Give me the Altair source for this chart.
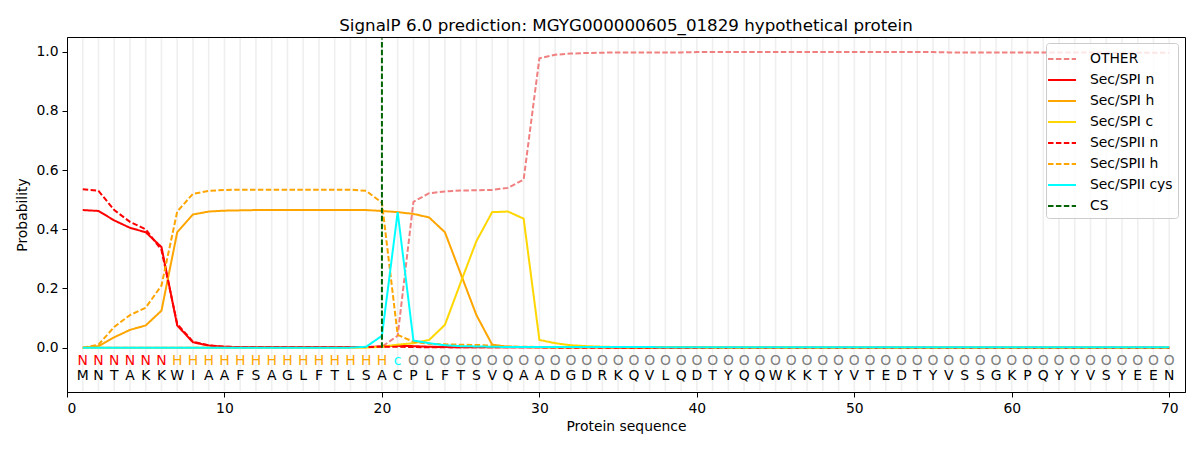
import altair as alt
import pandas as pd

sequence = list("MNTAKKWIAAFSAGLFTLSACPLFTSVQAADGDRKQVLQDTYQQWKKTYVTEDTYVSSGKPQYYVSYEEN")
region_labels = list("NNNNNN" + "H" * 14 + "c" + "O" * 49)
positions = list(range(1, len(sequence) + 1))
cs_position = 20

other = ([0.0] * 18 + [0.002, 0.003, 0.04, 0.493, 0.522, 0.528, 0.531, 0.532, 0.533, 0.540, 0.568,
         0.978, 0.990, 0.994, 0.996, 0.997] + [0.998] * 5 + [0.999] * 16 + [0.998] * 10 + [0.997] * 5)
spi_n = ([0.465, 0.462, 0.43, 0.405, 0.39, 0.34, 0.075, 0.018, 0.007, 0.003] + [0.002] * 9 +
         [0.004, 0.006, 0.005, 0.003, 0.002] + [0.001] * 10 + [0.0] * 36)
spi_h = ([0.0, 0.005, 0.035, 0.06, 0.075, 0.125, 0.39, 0.45, 0.46, 0.463, 0.464] + [0.465] * 8 +
         [0.462, 0.458, 0.452, 0.44, 0.39, 0.25, 0.11, 0.01, 0.003, 0.002] + [0.001] * 10 + [0.0] * 31)
spi_c = ([0.0] * 19 + [0.003, 0.01, 0.015, 0.026, 0.077, 0.22, 0.36, 0.458, 0.46, 0.436, 0.026, 0.015,
         0.008, 0.005, 0.003, 0.002] + [0.001] * 10 + [0.0] * 25)
spii_n = ([0.535, 0.53, 0.465, 0.425, 0.40, 0.33, 0.08, 0.02, 0.008, 0.003] + [0.002] * 9 +
          [0.003, 0.003, 0.002] + [0.001] * 8 + [0.0] * 40)
spii_h = ([0.0, 0.01, 0.07, 0.11, 0.135, 0.21, 0.46, 0.52, 0.53, 0.533] + [0.534] * 8 +
          [0.53, 0.49, 0.043, 0.02, 0.013, 0.011, 0.01, 0.009, 0.007, 0.004, 0.003, 0.002] +
          [0.001] * 10 + [0.0] * 30)
spii_cys = ([0.0] * 18 + [0.003, 0.04, 0.458, 0.024, 0.015, 0.008, 0.005, 0.004, 0.003] +
            [0.002] * 10 + [0.001] * 33)

series_names = ["OTHER", "Sec/SPI n", "Sec/SPI h", "Sec/SPI c", "Sec/SPII n", "Sec/SPII h",
                "Sec/SPII cys", "CS"]
series_colors = ["#F08080", "#FF0000", "#FFA500", "#FFD700", "#FF0000", "#FFA500", "#00FFFF", "#006400"]
series_dashes = [[5.5, 2.4], [1, 0], [1, 0], [1, 0], [5.5, 2.4], [5.5, 2.4], [1, 0], [5.5, 2.4]]
series_values = [other, spi_n, spi_h, spi_c, spii_n, spii_h, spii_cys]

label_colors = {"N": "#FF0000", "H": "#FFA500", "c": "#00FFFF", "O": "#808080"}

rows = []
for name, vals in zip(series_names[:-1], series_values):
    for p, v in zip(positions, vals):
        rows.append({"pos": p, "prob": v, "series": name})
lines_df = pd.DataFrame(rows)

seq_df = pd.DataFrame({
    "pos": positions,
    "aa": sequence,
    "lab": region_labels,
    "labcol": [label_colors[l] for l in region_labels],
})

cs_df = pd.DataFrame({"pos": [cs_position], "y0": [0.0], "y1": [1.045], "series": ["CS"]})
grid_df = pd.DataFrame({"pos": positions})

W, H = 1118, 355
FONT = "DejaVu Sans"

x_scale = alt.Scale(domain=[0, 71], nice=False, zero=False)
y_scale = alt.Scale(domain=[-0.15, 1.05], nice=False, zero=False)

color_scale = alt.Scale(domain=series_names, range=series_colors)
dash_scale = alt.Scale(domain=series_names, range=series_dashes)

legend = alt.Legend(
    title=None, orient="none", legendX=979, legendY=6,
    symbolType="M-1.4,0L1.4,0", symbolSize=400,
    symbolStrokeWidth=2, labelFont=FONT, labelFontSize=13.9, labelColor="black",
    fillColor="rgba(255,255,255,0.8)", strokeColor="#cccccc", cornerRadius=3, padding=5,
    rowPadding=3, labelOffset=17,
)

x_axis = alt.Axis(values=list(range(0, 71, 10)), format="d", title="Protein sequence", grid=False)
y_axis = alt.Axis(values=[0, 0.2, 0.4, 0.6, 0.8, 1.0], format=".1f", title="Probability", grid=False)

grid = alt.Chart(grid_df).mark_rule(color="#efefef", strokeWidth=1.6).encode(
    x=alt.X("pos:Q", scale=x_scale, axis=x_axis),
    y=alt.value(1), y2=alt.value(H - 1),
)

lines = alt.Chart(lines_df).mark_line(strokeWidth=2).encode(
    x=alt.X("pos:Q", scale=x_scale, axis=x_axis),
    y=alt.Y("prob:Q", scale=y_scale, axis=y_axis),
    color=alt.Color("series:N", scale=color_scale, legend=legend, sort=series_names),
    strokeDash=alt.StrokeDash("series:N", scale=dash_scale, legend=legend, sort=series_names),
    order=alt.Order("pos:Q"),
)

cs_rule = alt.Chart(cs_df).mark_rule(strokeWidth=2).encode(
    x=alt.X("pos:Q", scale=x_scale),
    y=alt.Y("y0:Q", scale=y_scale),
    y2="y1:Q",
    color=alt.Color("series:N", scale=color_scale, legend=legend, sort=series_names),
    strokeDash=alt.StrokeDash("series:N", scale=dash_scale, legend=legend, sort=series_names),
)

lab_text = alt.Chart(seq_df).mark_text(font=FONT, fontSize=13.9, baseline="middle").encode(
    x=alt.X("pos:Q", scale=x_scale),
    y=alt.datum(-0.045),
    text="lab:N",
    fill=alt.Fill("labcol:N", scale=None),
)

aa_text = alt.Chart(seq_df).mark_text(font=FONT, fontSize=13.9, baseline="middle", color="black").encode(
    x=alt.X("pos:Q", scale=x_scale),
    y=alt.datum(-0.096),
    text="aa:N",
)

chart = alt.layer(grid, lines, cs_rule, lab_text, aa_text).properties(
    width=W, height=H,
    title=alt.TitleParams(
        "SignalP 6.0 prediction: MGYG000000605_01829 hypothetical protein",
        font=FONT, fontSize=16.7, fontWeight="normal", color="black", anchor="middle", offset=2,
    ),
    autosize=alt.AutoSizeParams(type="none"),
    padding={"left": 59, "top": 29, "right": 7, "bottom": 50},
    background="white",
).configure_view(
    stroke="black", strokeWidth=1,
).configure_axis(
    labelFont=FONT, labelFontSize=13.9, labelColor="black", titleFont=FONT, titleFontSize=13.9,
    titleFontWeight="normal", titleColor="black", domainColor="black", tickColor="black",
    tickSize=5, labelPadding=4, domain=True,
).configure_axisX(titlePadding=5).configure_axisY(titlePadding=6)

chart.save("out.html", embed_options={"renderer": "svg", "actions": False})
